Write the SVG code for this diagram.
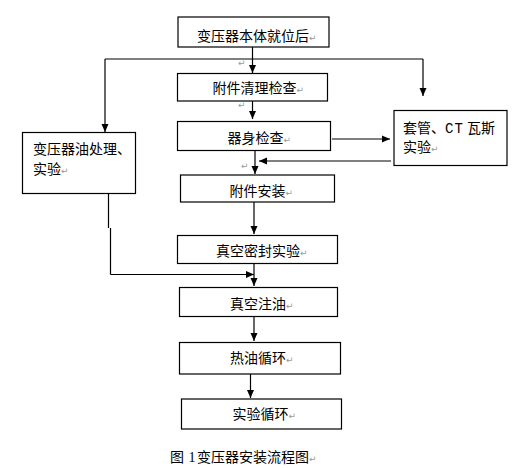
<svg xmlns="http://www.w3.org/2000/svg" width="529" height="468" viewBox="0 0 529 468">
<defs>
<marker id="ah" viewBox="0 0 8 8" refX="8" refY="4" markerWidth="8" markerHeight="8" markerUnits="userSpaceOnUse" orient="auto">
<path d="M0,0.5 L8,4 L0,7.5 z" fill="#000"/>
</marker>
<style>
.box{fill:#fff;stroke:#000;stroke-width:1.2}
.t{font-family:"Noto Sans CJK SC","Liberation Sans",sans-serif;font-size:14px;fill:#000}
.lat{font-family:"Liberation Mono",monospace}
.pm{font-family:"DejaVu Sans",sans-serif;font-size:9px;fill:#999}
.c{fill:none;stroke:#000;stroke-width:1.2}
.ca{fill:none;stroke:#000;stroke-width:1.2;marker-end:url(#ah)}
</style>
</defs>
<rect width="529" height="468" fill="#fff"/>
<g id="connectors">
<path class="ca" d="M252.5,47 V73"/>
<path class="c" d="M105,59 H423"/>
<path class="ca" d="M105,59 V132"/>
<path class="ca" d="M423,59 V96"/>
<path class="ca" d="M252.5,101 V119"/>
<path class="ca" d="M255,151 V174"/>
<path class="ca" d="M332,139 H390"/>
<path class="ca" d="M391,161 H259"/>
<path class="ca" d="M254,202 V234"/>
<path class="ca" d="M254,264 V286"/>
<path class="c" d="M108.5,193.5 V228 M110.5,228 V274.5"/>
<path class="ca" d="M110.5,274.5 H254"/>
<path class="ca" d="M254,317 V341"/>
<path class="ca" d="M250.5,374 V398"/>
</g>
<g id="n1"><rect class="box" x="178" y="17" width="151" height="30"/><text class="t" x="197" y="40.5">变压器本体就位后<tspan class="pm">↵</tspan></text></g>
<g id="n2"><rect class="box" x="177.5" y="73.5" width="150" height="27.5"/><text class="t" x="212.5" y="92.5">附件清理检查<tspan class="pm">↵</tspan></text></g>
<g id="n3"><rect class="box" x="177.5" y="121.5" width="153" height="29"/><text class="t" x="227.5" y="142.5">器身检查<tspan class="pm">↵</tspan></text></g>
<g id="n4"><rect class="box" x="180.5" y="175" width="154" height="27"/><text class="t" x="229.5" y="195.5">附件安装<tspan class="pm">↵</tspan></text></g>
<g id="n5"><rect class="box" x="177.5" y="235.5" width="160" height="28"/><text class="t" x="216" y="255.5">真空密封实验<tspan class="pm">↵</tspan></text></g>
<g id="n6"><rect class="box" x="179.5" y="287.5" width="158" height="29"/><text class="t" x="230" y="308.5">真空注油<tspan class="pm">↵</tspan></text></g>
<g id="n7"><rect class="box" x="179.5" y="342.5" width="161" height="31.5"/><text class="t" x="230" y="362.5">热油循环<tspan class="pm">↵</tspan></text></g>
<g id="n8"><rect class="box" x="181.5" y="399" width="160" height="30"/><text class="t" x="232.5" y="419">实验循环<tspan class="pm">↵</tspan></text></g>
<g id="n9"><rect class="box" x="22.5" y="132.5" width="113" height="61"/><text class="t" x="33" y="154">变压器油处理、</text><text class="t" x="33" y="174">实验<tspan class="pm">↵</tspan></text></g>
<g id="n10"><rect class="box" x="394" y="110.5" width="113" height="55"/><text class="t" x="403" y="132.5">套管、<tspan class="lat" x="445" letter-spacing="1">CT</tspan><tspan x="467">瓦斯</tspan></text><text class="t" x="403" y="152">实验<tspan class="pm">↵</tspan></text></g>
<g id="marks">
<text class="pm" x="238" y="66">↵</text>
<text class="pm" x="238" y="108">↵</text>
<text class="pm" x="241" y="169">↵</text>
</g>
<g id="caption"><text class="t" x="170" y="461.5">图<tspan font-family="Liberation Serif, serif" x="188.5">1</tspan><tspan x="197">变压器安装流程图</tspan><tspan class="pm">↵</tspan></text></g>
</svg>
